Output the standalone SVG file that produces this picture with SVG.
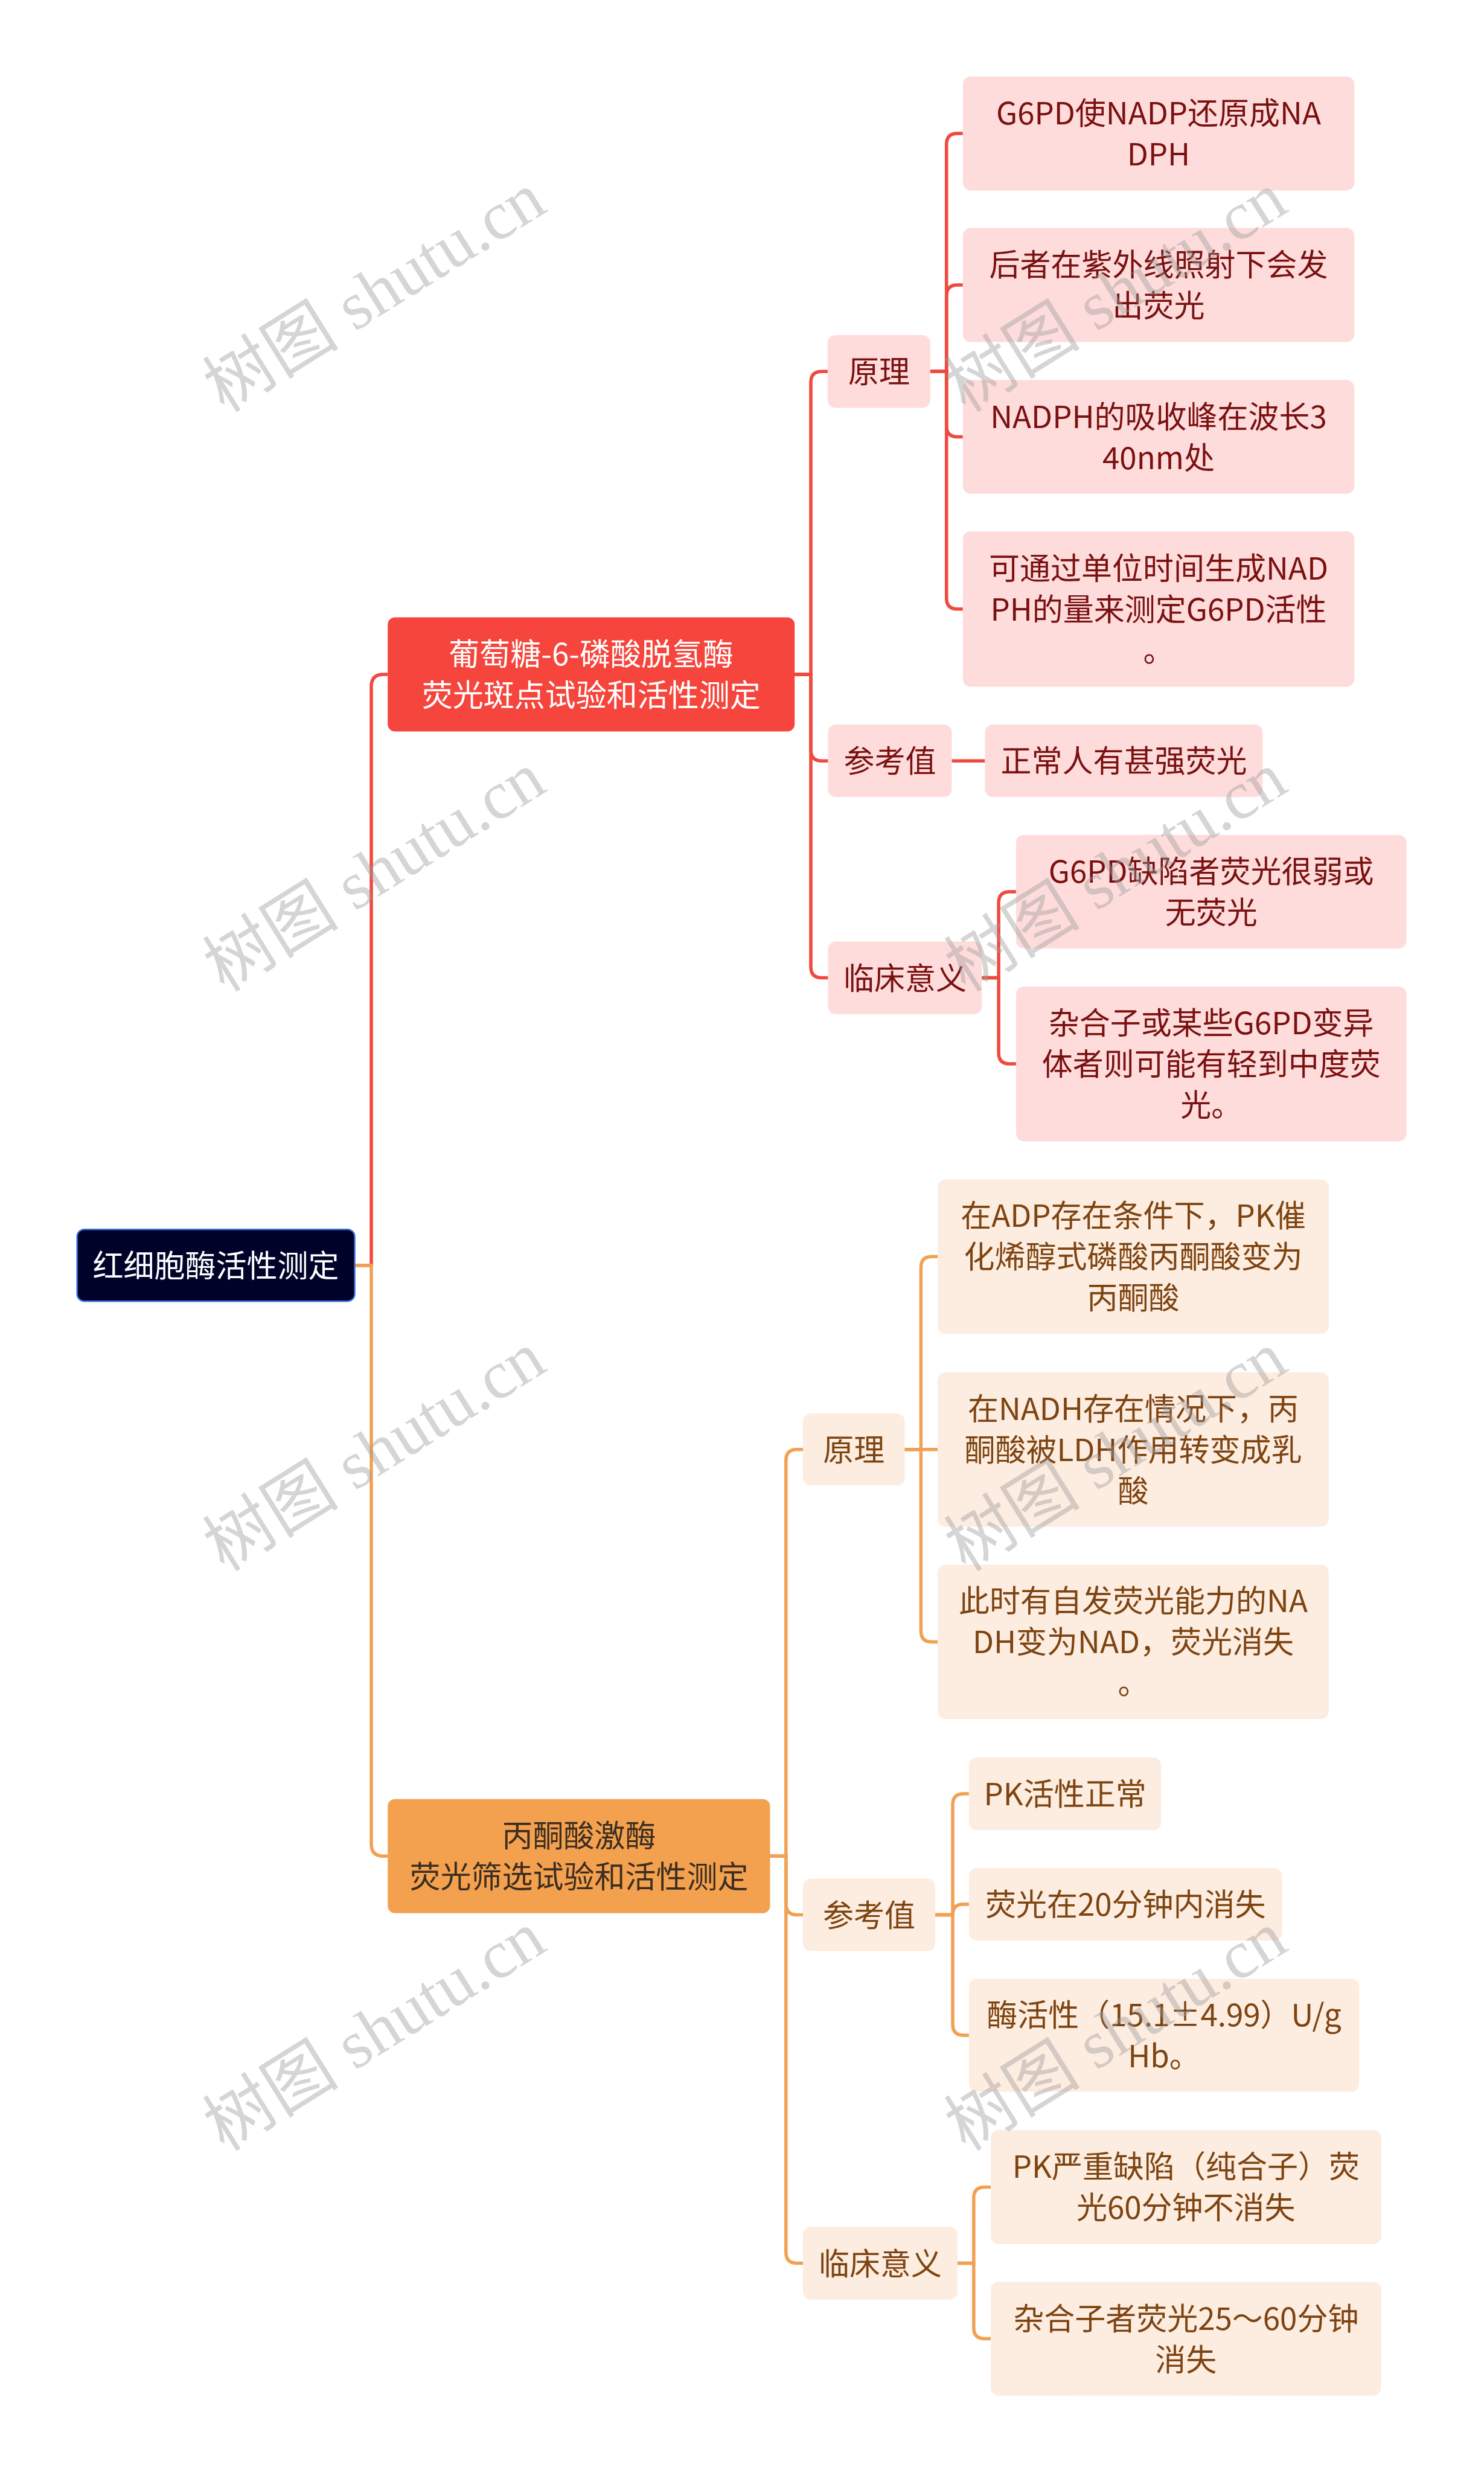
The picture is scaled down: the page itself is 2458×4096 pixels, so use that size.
<svg xmlns="http://www.w3.org/2000/svg" width="2458" height="4096" viewBox="0 0 2458 4096">
<style>
.t{font-family:"Noto Sans CJK SC","Noto Sans",sans-serif;font-size:51px;text-anchor:middle}
#root rect{fill:#000229;stroke:#3a72d8;stroke-width:2.5}
#root text{fill:#ffffff}
.b1 rect{fill:#f5453c}
.b1 text{fill:#ffffff}
.r1 rect{fill:#fddcdb}
.r1 text{fill:#7a1010}
.b2 rect{fill:#f4a14f}
.b2 text{fill:#3b2e20}
.o1 rect{fill:#fdece0}
.o1 text{fill:#7d4411}
.lr{fill:none;stroke:#ef4a40;stroke-width:5.5}
.lo{fill:none;stroke:#f2a152;stroke-width:5.5}
.wm{font-family:"Liberation Serif","Noto Sans CJK SC",serif;font-size:113px;fill:#9a9a9a;fill-opacity:0.42;text-anchor:middle;dominant-baseline:central}
</style>
<rect width="2458" height="4096" fill="#ffffff"/>
<g id="connectors">
<path class="lr" d="M587.5 2095.7 H615 V1137 Q615 1117 635 1117 H642.2"/>
<path class="lo" d="M587.5 2095.7 H615 V3054.3 Q615 3074.3 635 3074.3 H642.2"/>
<path class="lr" d="M1316.2 1117 H1343 V633.2 Q1343 615.2 1361 615.2 H1370.9"/>
<path class="lr" d="M1316.2 1117 H1343 V1242.2 Q1343 1260.2 1361 1260.2 H1371.5"/>
<path class="lr" d="M1316.2 1117 H1343 V1601.6 Q1343 1619.6 1361 1619.6 H1371.5"/>
<path class="lr" d="M1540.8 615.2 H1567.7 V239.1 Q1567.7 221.1 1585.7 221.1 H1594.8"/>
<path class="lr" d="M1540.8 615.2 H1567.7 V490.1 Q1567.7 472.1 1585.7 472.1 H1594.8"/>
<path class="lr" d="M1540.8 615.2 H1567.7 V705.6 Q1567.7 723.6 1585.7 723.6 H1594.8"/>
<path class="lr" d="M1540.8 615.2 H1567.7 V990.8 Q1567.7 1008.8 1585.7 1008.8 H1594.8"/>
<path class="lr" d="M1576.4 1260.2 H1631.5"/>
<path class="lr" d="M1626.3 1619.6 H1654.1 V1495 Q1654.1 1477 1672.1 1477 H1682.9"/>
<path class="lr" d="M1626.3 1619.6 H1654.1 V1744 Q1654.1 1762 1672.1 1762 H1682.9"/>
<path class="lo" d="M1275.5 3074.3 H1301.8 V2418.8 Q1301.8 2400.8 1319.8 2400.8 H1330"/>
<path class="lo" d="M1275.5 3074.3 H1301.8 V3153.5 Q1301.8 3171.5 1319.8 3171.5 H1330"/>
<path class="lo" d="M1275.5 3074.3 H1301.8 V3730.5 Q1301.8 3748.5 1319.8 3748.5 H1330"/>
<path class="lo" d="M1498.4 2400.8 H1525.4 V2099.3 Q1525.4 2081.3 1543.4 2081.3 H1553.1"/>
<path class="lo" d="M1498.4 2400.8 H1553.1"/>
<path class="lo" d="M1498.4 2400.8 H1525.4 V2701.4 Q1525.4 2719.4 1543.4 2719.4 H1553.1"/>
<path class="lo" d="M1549 3171.5 H1578 V2989 Q1578 2971 1596 2971 H1604.9"/>
<path class="lo" d="M1549 3171.5 H1578 Q1578 3154.1 1595.4 3154.1 H1604.9"/>
<path class="lo" d="M1549 3171.5 H1578 V3353 Q1578 3371 1596 3371 H1604.9"/>
<path class="lo" d="M1586 3748.5 H1612.8 V3640.4 Q1612.8 3622.4 1630.8 3622.4 H1641"/>
<path class="lo" d="M1586 3748.5 H1612.8 V3855.6 Q1612.8 3873.6 1630.8 3873.6 H1641"/>
</g>
<g id="root" class="t"><rect x="127.7" y="2036.2" width="459.8" height="119" rx="12"/><text x="357.6" y="2114.7">红细胞酶活性测定</text></g>

<g id="b1" class="t b1"><rect x="642.2" y="1022.4" width="674" height="189.2" rx="12"/><text x="979.2" y="1102">葡萄糖-6-磷酸脱氢酶</text><text x="979.2" y="1170">荧光斑点试验和活性测定</text></g>

<g id="b1-yuanli" class="t r1"><rect x="1370.9" y="554.9" width="169.9" height="120.6" rx="13"/><text x="1455.9" y="634.2">原理</text></g>
<g id="b1-l1" class="t r1"><rect x="1594.8" y="126.8" width="648.5" height="188.6" rx="13"/><text x="1919" y="206.1">G6PD使NADP还原成NA</text><text x="1919" y="274.1">DPH</text></g>
<g id="b1-l2" class="t r1"><rect x="1594.8" y="377.6" width="648.5" height="189" rx="13"/><text x="1919" y="457.1">后者在紫外线照射下会发</text><text x="1919" y="525.1">出荧光</text></g>
<g id="b1-l3" class="t r1"><rect x="1594.8" y="629.6" width="648.5" height="188.1" rx="13"/><text x="1919" y="708.6">NADPH的吸收峰在波长3</text><text x="1919" y="776.6">40nm处</text></g>
<g id="b1-l4" class="t r1"><rect x="1594.8" y="880" width="648.5" height="257.6" rx="13"/><text x="1919" y="959.8">可通过单位时间生成NAD</text><text x="1919" y="1027.8">PH的量来测定G6PD活性</text><text x="1919" y="1095.8">。</text></g>

<g id="b1-cankao" class="t r1"><rect x="1371.5" y="1200" width="204.9" height="120.3" rx="13"/><text x="1473.9" y="1279.2">参考值</text></g>
<g id="b1-c1" class="t r1"><rect x="1631.5" y="1200" width="459.8" height="120.3" rx="13"/><text x="1861.4" y="1279.2">正常人有甚强荧光</text></g>

<g id="b1-linchuang" class="t r1"><rect x="1371.5" y="1559.5" width="254.8" height="120.3" rx="13"/><text x="1498.9" y="1638.6">临床意义</text></g>
<g id="b1-k1" class="t r1"><rect x="1682.9" y="1382.8" width="646.6" height="188.3" rx="13"/><text x="2006.2" y="1462">G6PD缺陷者荧光很弱或</text><text x="2006.2" y="1530">无荧光</text></g>
<g id="b1-k2" class="t r1"><rect x="1682.9" y="1633.9" width="646.6" height="256.3" rx="13"/><text x="2006.2" y="1713">杂合子或某些G6PD变异</text><text x="2006.2" y="1781">体者则可能有轻到中度荧</text><text x="2006.2" y="1849">光。</text></g>

<g id="b2" class="t b2"><rect x="642.2" y="2979.8" width="633.3" height="188.9" rx="12"/><text x="958.9" y="3059.3">丙酮酸激酶</text><text x="958.9" y="3127.3">荧光筛选试验和活性测定</text></g>

<g id="b2-yuanli" class="t o1"><rect x="1330" y="2341.2" width="168.4" height="119.2" rx="13"/><text x="1414.2" y="2419.8">原理</text></g>
<g id="b2-l1" class="t o1"><rect x="1553.1" y="1953.6" width="647.8" height="255.4" rx="13"/><text x="1877" y="2032.3">在ADP存在条件下，PK催</text><text x="1877" y="2100.3">化烯醇式磷酸丙酮酸变为</text><text x="1877" y="2168.3">丙酮酸</text></g>
<g id="b2-l2" class="t o1"><rect x="1553.1" y="2273.1" width="647.8" height="255.4" rx="13"/><text x="1877" y="2351.8">在NADH存在情况下，丙</text><text x="1877" y="2419.8">酮酸被LDH作用转变成乳</text><text x="1877" y="2487.8">酸</text></g>
<g id="b2-l3" class="t o1"><rect x="1553.1" y="2591.6" width="647.8" height="255.7" rx="13"/><text x="1877" y="2670.4">此时有自发荧光能力的NA</text><text x="1877" y="2738.4">DH变为NAD，荧光消失</text><text x="1877" y="2806.4">。</text></g>

<g id="b2-cankao" class="t o1"><rect x="1330" y="3111.4" width="219" height="120.2" rx="13"/><text x="1439.5" y="3190.5">参考值</text></g>
<g id="b2-c1" class="t o1"><rect x="1604.9" y="2910.7" width="318.5" height="120.6" rx="13"/><text x="1764.2" y="2990">PK活性正常</text></g>
<g id="b2-c2" class="t o1"><rect x="1604.9" y="3094.1" width="518.6" height="120" rx="13"/><text x="1864.2" y="3173.1">荧光在20分钟内消失</text></g>
<g id="b2-c3" class="t o1"><rect x="1604.9" y="3277.4" width="646.3" height="187.2" rx="13"/><text x="1928" y="3356">酶活性（15.1±4.99）U/g</text><text x="1928" y="3424">Hb。</text></g>

<g id="b2-linchuang" class="t o1"><rect x="1330" y="3688.3" width="256" height="120.5" rx="13"/><text x="1458" y="3767.5">临床意义</text></g>
<g id="b2-k1" class="t o1"><rect x="1641" y="3528" width="646.7" height="188.8" rx="13"/><text x="1964.3" y="3607.4">PK严重缺陷（纯合子）荧</text><text x="1964.3" y="3675.4">光60分钟不消失</text></g>
<g id="b2-k2" class="t o1"><rect x="1641" y="3779.5" width="646.7" height="188.2" rx="13"/><text x="1964.3" y="3858.6">杂合子者荧光25～60分钟</text><text x="1964.3" y="3926.6">消失</text></g>

<g id="watermarks" class="wm">
<text transform="translate(620 484) rotate(-32)">树图 shutu.cn</text>
<text transform="translate(620 1444) rotate(-32)">树图 shutu.cn</text>
<text transform="translate(620 2404) rotate(-32)">树图 shutu.cn</text>
<text transform="translate(620 3364) rotate(-32)">树图 shutu.cn</text>
<text transform="translate(1848 484) rotate(-32)">树图 shutu.cn</text>
<text transform="translate(1848 1444) rotate(-32)">树图 shutu.cn</text>
<text transform="translate(1848 2404) rotate(-32)">树图 shutu.cn</text>
<text transform="translate(1848 3364) rotate(-32)">树图 shutu.cn</text>
</g>
</svg>
